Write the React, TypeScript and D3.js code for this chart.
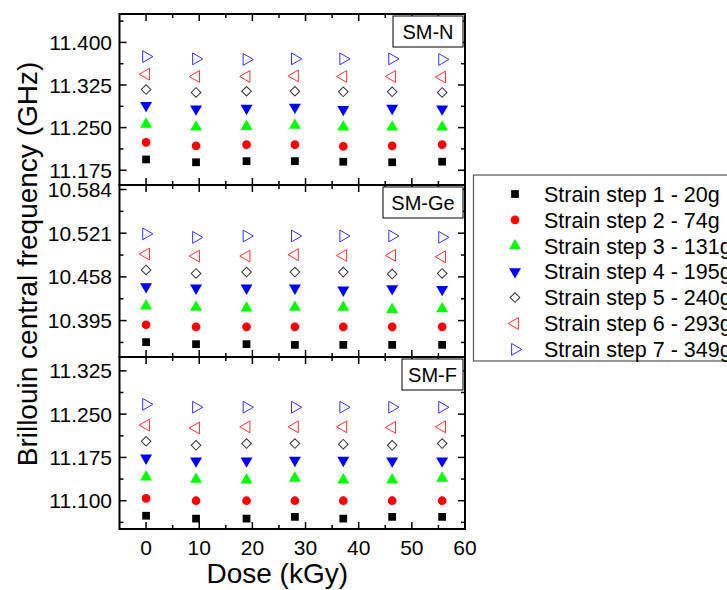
import * as d3 from "d3";

// dose (kGy) of every measurement
const doses = [0, 9.4, 18.9, 28.0, 37.1, 46.3, 55.7];

const seriesLabels = [
  "Strain step 1 - 20g",
  "Strain step 2 - 74g",
  "Strain step 3 - 131g",
  "Strain step 4 - 195g",
  "Strain step 5 - 240g",
  "Strain step 6 - 293g",
  "Strain step 7 - 349g",
];

// Brillouin central frequency (GHz), one row per strain step
const smN = [
  [11.194, 11.189, 11.191, 11.191, 11.190, 11.189, 11.190],
  [11.224, 11.218, 11.220, 11.220, 11.217, 11.218, 11.220],
  [11.256, 11.251, 11.252, 11.254, 11.251, 11.251, 11.251],
  [11.289, 11.283, 11.284, 11.286, 11.282, 11.284, 11.283],
  [11.317, 11.312, 11.314, 11.314, 11.313, 11.313, 11.312],
  [11.344, 11.340, 11.340, 11.341, 11.340, 11.340, 11.339],
  [11.375, 11.371, 11.370, 11.371, 11.371, 11.371, 11.370],
];
const smGe = [
  [10.364, 10.361, 10.361, 10.360, 10.360, 10.360, 10.360],
  [10.389, 10.386, 10.386, 10.386, 10.386, 10.386, 10.386],
  [10.416, 10.414, 10.413, 10.414, 10.414, 10.411, 10.412],
  [10.444, 10.442, 10.442, 10.442, 10.439, 10.441, 10.440],
  [10.468, 10.463, 10.465, 10.465, 10.465, 10.462, 10.463],
  [10.491, 10.488, 10.488, 10.490, 10.489, 10.489, 10.487],
  [10.520, 10.515, 10.517, 10.517, 10.517, 10.517, 10.515],
];
const smF = [
  [11.074, 11.069, 11.069, 11.072, 11.069, 11.072, 11.072],
  [11.104, 11.100, 11.100, 11.100, 11.100, 11.100, 11.100],
  [11.141, 11.137, 11.136, 11.139, 11.136, 11.136, 11.139],
  [11.174, 11.169, 11.169, 11.170, 11.170, 11.169, 11.169],
  [11.203, 11.196, 11.199, 11.199, 11.198, 11.196, 11.199],
  [11.231, 11.226, 11.228, 11.228, 11.228, 11.227, 11.228],
  [11.267, 11.262, 11.262, 11.262, 11.262, 11.262, 11.262],
];

const smNTicks = [11.175, 11.25, 11.325, 11.4];
const smGeTicks = [10.395, 10.458, 10.521, 10.584];
const smFTicks = [11.1, 11.175, 11.25, 11.325];
const doseTicks = [0, 10, 20, 30, 40, 50, 60];

const FONT = "Arial, 'Liberation Sans', sans-serif";

const left = 119.5;
const right = 465;
const panelEdges = [14, 185, 357, 529];

const x = d3.scaleLinear().domain([-5, 60]).range([left, right]);

const panels = [
  { name: "SM-N", data: smN, ticks: smNTicks, domain: [11.149, 11.45], box: [393, 463] },
  { name: "SM-Ge", data: smGe, ticks: smGeTicks, domain: [10.3425, 10.5905], box: [383, 463] },
  { name: "SM-F", data: smF, ticks: smFTicks, domain: [11.051, 11.349], box: [402, 463] },
];

// marker style per strain step
const markers = [
  { type: d3.symbolSquare, size: 60, rotate: 0, fill: "#000", stroke: "none" },
  { type: d3.symbolCircle, size: 60, rotate: 0, fill: "#ff0000", stroke: "none" },
  { type: d3.symbolTriangle, size: 62, rotate: 0, fill: "#00ff00", stroke: "none" },
  { type: d3.symbolTriangle, size: 62, rotate: 180, fill: "#0000ff", stroke: "none" },
  { type: d3.symbolSquare, size: 46, rotate: 45, fill: "none", stroke: "#333" },
  { type: d3.symbolTriangle, size: 60, rotate: -90, fill: "none", stroke: "#ff3333" },
  { type: d3.symbolTriangle, size: 60, rotate: 90, fill: "none", stroke: "#3333ff" },
];

function Marker({ i, cx, cy }: { i: number; cx: number; cy: number }) {
  const m = markers[i];
  const path = d3.symbol().type(m.type).size(m.size)() || "";
  return (
    <path
      d={path}
      transform={`translate(${cx},${cy}) rotate(${m.rotate})`}
      fill={m.fill}
      stroke={m.stroke}
      strokeWidth={1}
    />
  );
}

function Panel({ p, idx }: { p: (typeof panels)[number]; idx: number }) {
  const top = panelEdges[idx];
  const bottom = panelEdges[idx + 1];
  const y = d3.scaleLinear().domain(p.domain).range([bottom, top]);
  const step = p.ticks[1] - p.ticks[0];
  const minor: number[] = [];
  for (let k = -1; k < p.ticks.length; k++) {
    const v = p.ticks[0] + step * (k + 0.5);
    if (y(v) > top + 1 && y(v) < bottom - 1) minor.push(v);
  }
  const xTicks = d3.range(0, 61, 5);
  return (
    <g>
      {p.data.map((row, si) =>
        row.map((v, j) => <Marker key={`${si}-${j}`} i={si} cx={x(doses[j])} cy={y(v)} />)
      )}
      {p.ticks.map((t) => (
        <g key={t}>
          <line x1={left} x2={left + 7} y1={y(t)} y2={y(t)} stroke="#000" strokeWidth={1.5} />
          <line x1={right} x2={right - 7} y1={y(t)} y2={y(t)} stroke="#000" strokeWidth={1.5} />
          <text x={112} y={y(t)} dy="0.36em" textAnchor="end" fontSize={21} fontFamily={FONT}>
            {d3.format(".3f")(t)}
          </text>
        </g>
      ))}
      {minor.map((t) => (
        <g key={`m${t}`}>
          <line x1={left} x2={left + 4} y1={y(t)} y2={y(t)} stroke="#000" strokeWidth={1.5} />
          <line x1={right} x2={right - 4} y1={y(t)} y2={y(t)} stroke="#000" strokeWidth={1.5} />
        </g>
      ))}
      {xTicks.map((t) => {
        const len = t % 10 === 0 ? 7 : 4;
        return (
          <g key={`x${t}`}>
            <line x1={x(t)} x2={x(t)} y1={bottom} y2={bottom - len} stroke="#000" strokeWidth={1.5} />
            <line x1={x(t)} x2={x(t)} y1={top} y2={top + len} stroke="#000" strokeWidth={1.5} />
          </g>
        );
      })}
      <rect
        x={p.box[0]}
        y={top + 2}
        width={p.box[1] - p.box[0]}
        height={31}
        fill="#fff"
        stroke="#000"
        strokeWidth={1}
      />
      <text
        x={(p.box[0] + p.box[1]) / 2}
        y={top + 18}
        dy="0.36em"
        textAnchor="middle"
        fontSize={20}
        fontFamily={FONT}
      >
        {p.name}
      </text>
      <rect x={left} y={top} width={right - left} height={bottom - top} fill="none" stroke="#000" strokeWidth={2} />
    </g>
  );
}

export default function App() {
  const legendTop = 194;
  const legendStep = 25.9;
  return (
    <svg
      width={727}
      height={590}
      style={{ position: "absolute", left: 0, top: 0, background: "#fff" }}
    >
      <rect width={727} height={590} fill="#fff" />
      {panels.map((p, i) => (
        <Panel key={p.name} p={p} idx={i} />
      ))}
      {doseTicks.map((t) => (
        <text key={t} x={x(t)} y={547} dy="0.36em" textAnchor="middle" fontSize={21} fontFamily={FONT}>
          {t}
        </text>
      ))}
      <text x={(left + right) / 2 - 15} y={583} textAnchor="middle" fontSize={28} fontFamily={FONT}>
        Dose (kGy)
      </text>
      <text
        transform="translate(37,264) rotate(-90)"
        textAnchor="middle"
        fontSize={28}
        fontFamily={FONT}
      >
        Brillouin central frequency (GHz)
      </text>
      <g>
        <rect x={473.5} y={175} width={260} height={186} fill="#fff" stroke="#555" strokeWidth={1.2} />
        {seriesLabels.map((s, i) => (
          <g key={s}>
            <Marker i={i} cx={515} cy={legendTop + i * legendStep} />
            <text
              x={544}
              y={legendTop + i * legendStep}
              dy="0.36em"
              fontSize={21.5}
              fontFamily={FONT}
            >
              {s}
            </text>
          </g>
        ))}
      </g>
    </svg>
  );
}
